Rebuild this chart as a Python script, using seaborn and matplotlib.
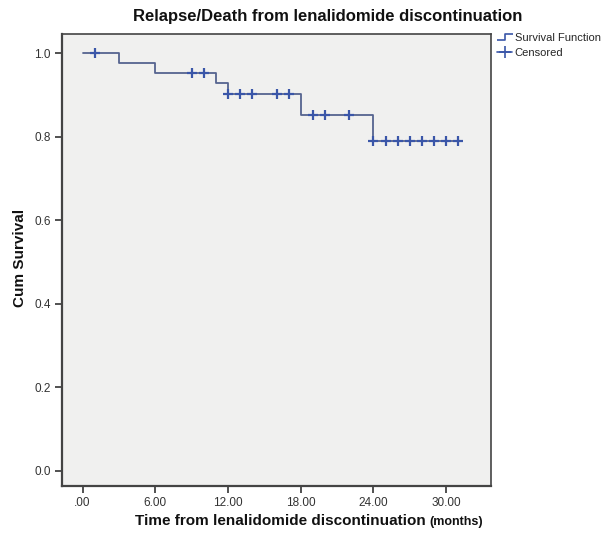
import numpy as np
import matplotlib
matplotlib.use("Agg")
import matplotlib.pyplot as plt
from matplotlib.lines import Line2D
from matplotlib.path import Path
import seaborn as sns

# step points of the survival curve (months, cum survival)
step_times = [0, 3, 6, 11, 12, 18, 24, 31]
step_surv = [1.0, 0.976, 0.952, 0.928, 0.903, 0.853, 0.790, 0.790]

# censored observations
censor_times = [1, 9, 10, 12, 13, 14, 16, 17, 19, 20, 22,
                24, 25, 26, 27, 28, 29, 30, 31]

x_ticks = [0, 6, 12, 18, 24, 30]
x_ticklabels = [".00", "6.00", "12.00", "18.00", "24.00", "30.00"]
y_ticks = [0.0, 0.2, 0.4, 0.6, 0.8, 1.0]
y_ticklabels = ["0.0", "0.2", "0.4", "0.6", "0.8", "1.0"]


def surv_at(t):
    idx = np.searchsorted(step_times, t, side="right") - 1
    return step_surv[idx]


censor_surv = [surv_at(t) for t in censor_times]

sns.set_style("white")
plt.rcParams['font.family'] = ['Liberation Sans', 'DejaVu Sans']

line_col = "#56648f"
mark_col = "#3a56a8"

fig = plt.figure(figsize=(6.06, 5.37), dpi=100)
ax = fig.add_axes([0.1023, 0.095, 0.708, 0.8426])
ax.set_facecolor("#f0f0ef")

sns.lineplot(x=step_times, y=step_surv, drawstyle="steps-post",
             estimator=None, color=line_col, linewidth=1.3, ax=ax)
sns.scatterplot(x=censor_times, y=censor_surv, marker="+", s=45,
                color=mark_col, linewidth=1.6, ax=ax, zorder=3)

ax.set_xlim(-1.7, 33.7)
ax.set_ylim(-0.036, 1.047)
ax.set_xticks(x_ticks)
ax.set_xticklabels(x_ticklabels)
ax.set_yticks(y_ticks)
ax.set_yticklabels(y_ticklabels)
ax.tick_params(axis="both", direction="out", length=5, width=1.2,
               color="#333333", labelsize=8.5, labelcolor="#333333", pad=3)
ax.tick_params(axis="x", bottom=True)
ax.tick_params(axis="y", left=True)
for sp in ax.spines.values():
    sp.set_color("#444444")
    sp.set_linewidth(1.2)
ax.spines["left"].set_linewidth(1.6)
ax.spines["bottom"].set_linewidth(1.6)

ax.set_xlabel("")
ax.set_ylabel("")
fig.text(20 / 606, 1 - 258 / 537, "Cum Survival", rotation=90,
         ha="center", va="center", fontsize=11, fontweight="bold", color="#111111")

fig.text(328 / 606, 1 - 17 / 537, "Relapse/Death from lenalidomide discontinuation",
         ha="center", va="center", fontsize=12, fontweight="bold", color="#111111")
fig.text(426 / 606, 1 - 521 / 537, "Time from lenalidomide discontinuation",
         ha="right", va="center", fontsize=11, fontweight="bold", color="#111111")
fig.text(429 / 606, 1 - 522 / 537, "(months)",
         ha="left", va="center", fontsize=9, fontweight="bold", color="#111111")

step_marker = Path([(-1.0, -0.4), (0.0, -0.4), (0.0, 0.4), (1.0, 0.4)])
handles = [
    Line2D([], [], linestyle="none", marker=step_marker, markersize=12,
           markerfacecolor="none", markeredgecolor=mark_col, markeredgewidth=1.2),
    Line2D([], [], color=mark_col, linewidth=1.2, marker="+", markersize=8,
           markeredgewidth=1.2),
]
fig.legend(handles, ["Survival Function", "Censored"], loc="upper left",
           bbox_to_anchor=(0.82, 0.938), frameon=False, fontsize=8,
           handlelength=1.4, handletextpad=0.2, labelspacing=0.45,
           borderaxespad=0, borderpad=0)

fig.savefig("out.png", dpi=100)
